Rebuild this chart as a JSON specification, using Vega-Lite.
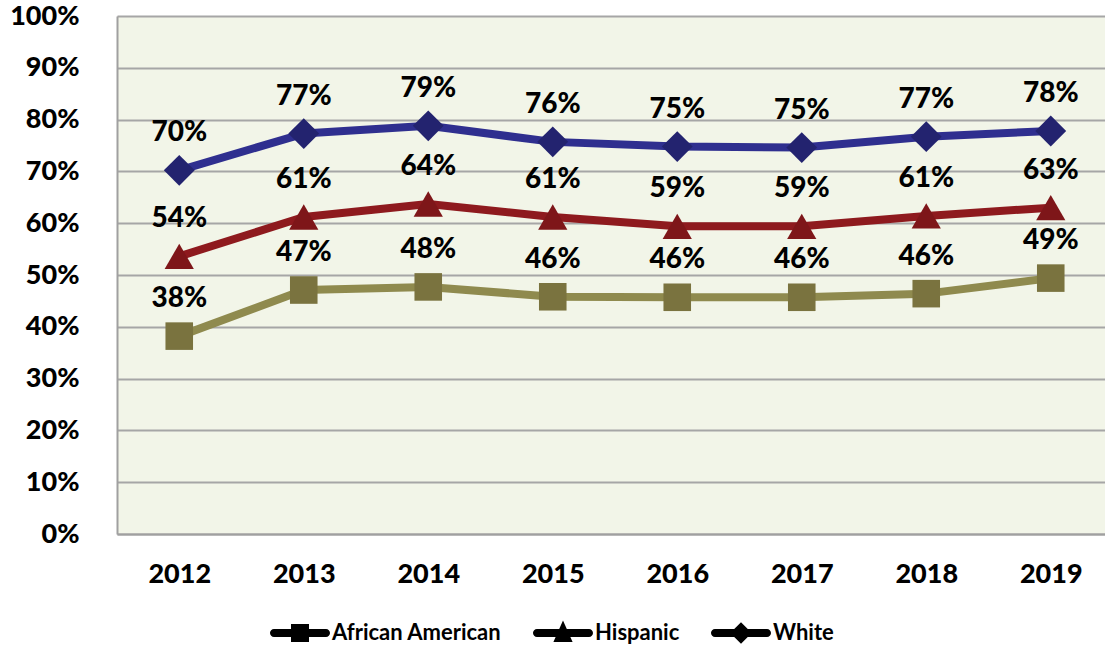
{
  "$schema": "https://vega.github.io/schema/vega-lite/v6.json",
  "autosize": {"type": "none"},
  "width": 996,
  "height": 518,
  "padding": {"left": 117, "top": 16, "right": 0, "bottom": 115},
  "background": "white",
  "data": {
    "values": [
      {"year": "2012", "group": "African American", "rate": 0.382},
      {"year": "2013", "group": "African American", "rate": 0.471},
      {"year": "2014", "group": "African American", "rate": 0.477},
      {"year": "2015", "group": "African American", "rate": 0.458},
      {"year": "2016", "group": "African American", "rate": 0.457},
      {"year": "2017", "group": "African American", "rate": 0.457},
      {"year": "2018", "group": "African American", "rate": 0.464},
      {"year": "2019", "group": "African American", "rate": 0.494},
      {"year": "2012", "group": "Hispanic", "rate": 0.536},
      {"year": "2013", "group": "Hispanic", "rate": 0.612},
      {"year": "2014", "group": "Hispanic", "rate": 0.637},
      {"year": "2015", "group": "Hispanic", "rate": 0.612},
      {"year": "2016", "group": "Hispanic", "rate": 0.594},
      {"year": "2017", "group": "Hispanic", "rate": 0.594},
      {"year": "2018", "group": "Hispanic", "rate": 0.614},
      {"year": "2019", "group": "Hispanic", "rate": 0.63},
      {"year": "2012", "group": "White", "rate": 0.702},
      {"year": "2013", "group": "White", "rate": 0.773},
      {"year": "2014", "group": "White", "rate": 0.788},
      {"year": "2015", "group": "White", "rate": 0.757},
      {"year": "2016", "group": "White", "rate": 0.748},
      {"year": "2017", "group": "White", "rate": 0.746},
      {"year": "2018", "group": "White", "rate": 0.767},
      {"year": "2019", "group": "White", "rate": 0.778}
    ]
  },
  "encoding": {
    "x": {
      "field": "year", "type": "ordinal",
      "scale": {"type": "point", "padding": 0.5},
      "axis": {
        "title": null, "labelAngle": 0, "ticks": false, "grid": false,
        "domain": true, "domainColor": "#A0A0A0", "domainWidth": 2,
        "labelFont": "Lato", "labelFontWeight": 900, "labelFontSize": 27,
        "labelColor": "#000000", "labelPadding": 27
      }
    },
    "y": {
      "field": "rate", "type": "quantitative",
      "scale": {"domain": [0, 1], "nice": false},
      "axis": {
        "title": null, "format": ".0%", "values": [0,0.1,0.2,0.3,0.4,0.5,0.6,0.7,0.8,0.9,1],
        "labelOverlap": false,
        "ticks": false, "grid": true, "gridColor": "#A6A6A6", "gridWidth": 2,
        "domain": true, "domainColor": "#A0A0A0", "domainWidth": 2,
        "labelFont": "Lato", "labelFontWeight": 900, "labelFontSize": 27,
        "labelColor": "#000000", "labelPadding": 38
      }
    }
  },
  "layer": [
    {
      "mark": {"type": "line", "strokeWidth": 8, "strokeCap": "round", "strokeJoin": "round"},
      "encoding": {
        "stroke": {
          "field": "group", "type": "nominal",
          "scale": {"domain": ["African American", "Hispanic", "White"], "range": ["#8F8A4E", "#8E1A1E", "#2F2F8F"]},
          "legend": null
        }
      }
    },
    {
      "mark": {"type": "point", "filled": true, "opacity": 1},
      "encoding": {
        "shape": {
          "field": "group", "type": "nominal",
          "scale": {"domain": ["African American", "Hispanic", "White"], "range": ["square", "triangle-up", "diamond"]},
          "legend": null
        },
        "fill": {
          "field": "group", "type": "nominal",
          "scale": {"domain": ["African American", "Hispanic", "White"], "range": ["#7A733F", "#7E1619", "#23236F"]},
          "legend": null
        },
        "size": {
          "field": "group", "type": "nominal",
          "scale": {"domain": ["African American", "Hispanic", "White"], "range": [760, 950, 1150]},
          "legend": null
        }
      }
    },
    {
      "transform": [{"filter": "false"}],
      "mark": {"type": "point", "filled": true, "opacity": 1},
      "encoding": {
        "color": {
          "field": "group", "type": "nominal",
          "scale": {"domain": ["African American", "Hispanic", "White"], "range": ["#857D44", "#8A181C", "#2B2B88"]},
          "legend": {
            "title": null, "orient": "none", "direction": "horizontal",
            "legendX": 153, "legendY": 587,
            "symbolSize": 3600, "symbolStrokeWidth": 0,
            "labelFont": "Lato", "labelFontWeight": "bold", "labelFontSize": 22, "labelColor": "#000000",
            "labelOffset": 2, "columnPadding": 31, "labelLimit": 400,
            "encode": {"symbols": {"update": {"fill": {"scale": "color", "field": "value"}, "opacity": {"value": 1}}}}
          }
        },
        "shape": {
          "field": "group", "type": "nominal",
          "scale": {"domain": ["African American", "Hispanic", "White"], "range": [
            "M -0.867 -0.133 L 0.867 -0.133 A 0.133 0.133 0 0 1 0.867 0.133 L -0.867 0.133 A 0.133 0.133 0 0 1 -0.867 -0.133 Z M -0.3 -0.3 L 0.3 -0.3 L 0.3 0.3 L -0.3 0.3 Z",
            "M -0.867 -0.133 L 0.867 -0.133 A 0.133 0.133 0 0 1 0.867 0.133 L -0.867 0.133 A 0.133 0.133 0 0 1 -0.867 -0.133 Z M 0 -0.42 L 0.32 0.3 L -0.32 0.3 Z",
            "M -0.867 -0.133 L 0.867 -0.133 A 0.133 0.133 0 0 1 0.867 0.133 L -0.867 0.133 A 0.133 0.133 0 0 1 -0.867 -0.133 Z M 0 -0.36 L 0.36 0 L 0 0.36 L -0.36 0 Z"
          ]},
          "legend": {
            "title": null, "orient": "none", "direction": "horizontal",
            "legendX": 153, "legendY": 587,
            "symbolSize": 3600, "symbolStrokeWidth": 0,
            "labelFont": "Lato", "labelFontWeight": "bold", "labelFontSize": 22, "labelColor": "#000000",
            "labelOffset": 2, "columnPadding": 31, "labelLimit": 400,
            "encode": {"symbols": {"update": {"fill": {"scale": "color", "field": "value"}, "opacity": {"value": 1}}}}
          }
        }
      }
    },
    {
      "mark": {"type": "text", "dy": -37, "baseline": "middle", "align": "center", "font": "Lato", "fontWeight": 900, "fontSize": 28, "color": "#000000"},
      "encoding": {
        "text": {"field": "rate", "type": "quantitative", "format": ".0%"}
      }
    }
  ],
  "resolve": {"scale": {"shape": "independent"}},
  "config": {
    "view": {"stroke": null, "fill": "#F2F5E8"}
  }
}
